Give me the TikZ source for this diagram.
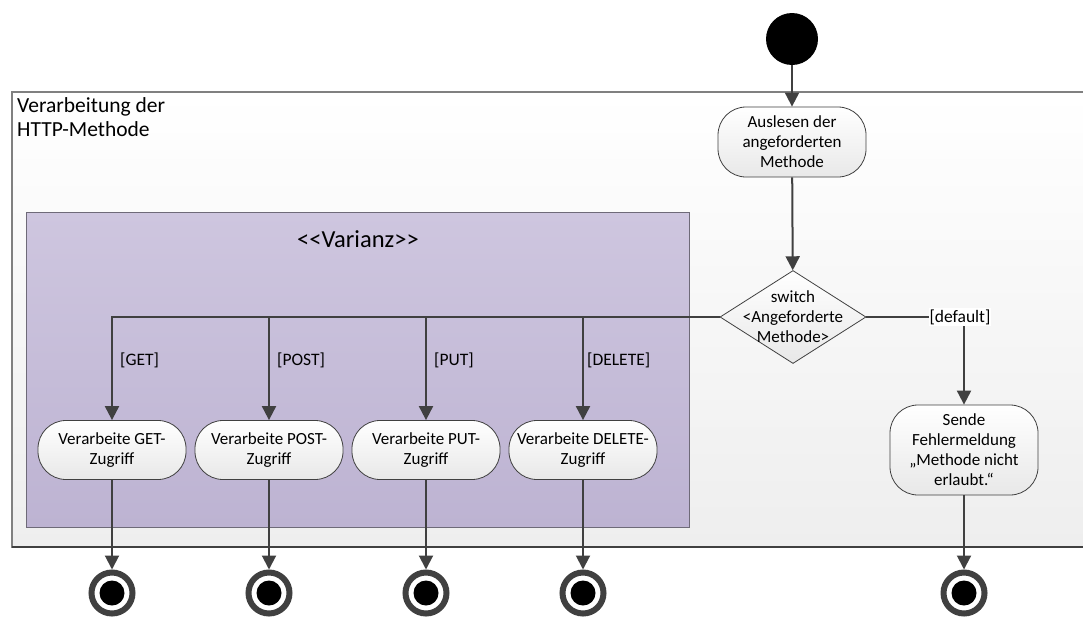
\documentclass[tikz,border=0pt]{standalone}
\usepackage{fontspec}
\setmainfont{Carlito}
\usetikzlibrary{shapes.geometric,arrows.meta}
\definecolor{ln}{HTML}{404040}
\definecolor{frameline}{HTML}{808080}
\definecolor{varline}{HTML}{6E6A78}
\definecolor{vartop}{HTML}{CEC6DF}
\definecolor{varbot}{HTML}{BDB3D2}
\definecolor{nodebot}{HTML}{E8E8E8}
\definecolor{framebot}{HTML}{EEEEEE}
\tikzset{
  flow/.style={draw=ln, line width=2pt, -{Triangle[length=14pt,width=14pt]}},
  action/.style={draw=ln, line width=0.8pt, rounded corners=28pt, top color=white, bottom color=nodebot,
    minimum width=148pt, align=center, font=\fontsize{17}{20}\selectfont, inner sep=0pt},
  guard/.style={anchor=west, font=\fontsize{17.5}{20}\selectfont, inner sep=0pt},
  startnode/.style={circle, fill=black, minimum size=52pt, inner sep=0pt},
  endnode/.style={circle, draw=ln, line width=6pt, fill=white, minimum size=41pt, inner sep=0pt,
    path picture={\fill[black] (path picture bounding box.center) circle (12.5pt);}},
}
\begin{document}
\begin{tikzpicture}[x=1pt,y=-1pt]
\useasboundingbox (0,0) rectangle (1083,616);
\begin{scope}
\clip (0,0) rectangle (1083,616);
\draw[draw=frameline, line width=1.2pt, top color=white, bottom color=framebot] (12,92) rectangle (1100,547);
\draw[draw=ln, line width=1.4pt] (12,547) -- (1100,547);
\end{scope}
\node[anchor=north west, align=left, font=\fontsize{21.5}{24}\selectfont, inner sep=0pt] (title) at (17,97) {Verarbeitung der\\HTTP-Methode};
\draw[draw=varline, line width=1pt, top color=vartop, bottom color=varbot] (26,212) rectangle (689,527);
\node[font=\fontsize{24.5}{28}\selectfont] (var) at (358,239) {{<}{<}Varianz{>}{>}};

\node[startnode] (start) at (792,39) {};
\node[action, minimum height=70pt] (aus) at (792,142) {Auslesen der\\angeforderten\\Methode};
\node[diamond, draw=ln, line width=0.8pt, top color=white, bottom color=nodebot, minimum width=146pt, minimum height=93pt, inner sep=0pt] (sw) at (793,317) {};
\node[align=center, font=\fontsize{17}{20}\selectfont] (swtext) at (793,317) {switch\\<Angeforderte\\Methode>};

\node[action, minimum height=59pt] (get) at (112,450) {Verarbeite GET-\\Zugriff};
\node[action, minimum height=59pt] (post) at (269,450) {Verarbeite POST-\\Zugriff};
\node[action, minimum height=59pt] (put) at (426,450) {Verarbeite PUT-\\Zugriff};
\node[action, minimum height=59pt] (del) at (583,450) {Verarbeite DELETE-\\Zugriff};
\node[action, minimum height=90pt] (sende) at (964,450) {Sende\\Fehlermeldung\\„Methode nicht\\erlaubt.“};

\node[endnode] (e1) at (112,593) {};
\node[endnode] (e2) at (269,593) {};
\node[endnode] (e3) at (426,593) {};
\node[endnode] (e4) at (583,593) {};
\node[endnode] (e5) at (964,593) {};

\draw[flow] (start) -- (aus);
\draw[flow] (aus) -- (sw);
\draw[flow] (sw.west) -| (get.north);
\draw[flow] (sw.west) -| (post.north);
\draw[flow] (sw.west) -| (put.north);
\draw[flow] (sw.west) -| (del.north);
\draw[flow] (sw.east) -| (sende.north) node[pos=0.5, fill=white, inner sep=1pt, xshift=-4pt, font=\fontsize{17.5}{20}\selectfont] (deflabel) {[default]};

\node[guard] (lget) at (120,360) {[GET]};
\node[guard] (lpost) at (277,360) {[POST]};
\node[guard] (lput) at (434,360) {[PUT]};
\node[guard] (ldel) at (587,360) {[DELETE]};

\draw[flow] (get) -- (e1);
\draw[flow] (post) -- (e2);
\draw[flow] (put) -- (e3);
\draw[flow] (del) -- (e4);
\draw[flow] (sende) -- (e5);
\end{tikzpicture}
\end{document}
